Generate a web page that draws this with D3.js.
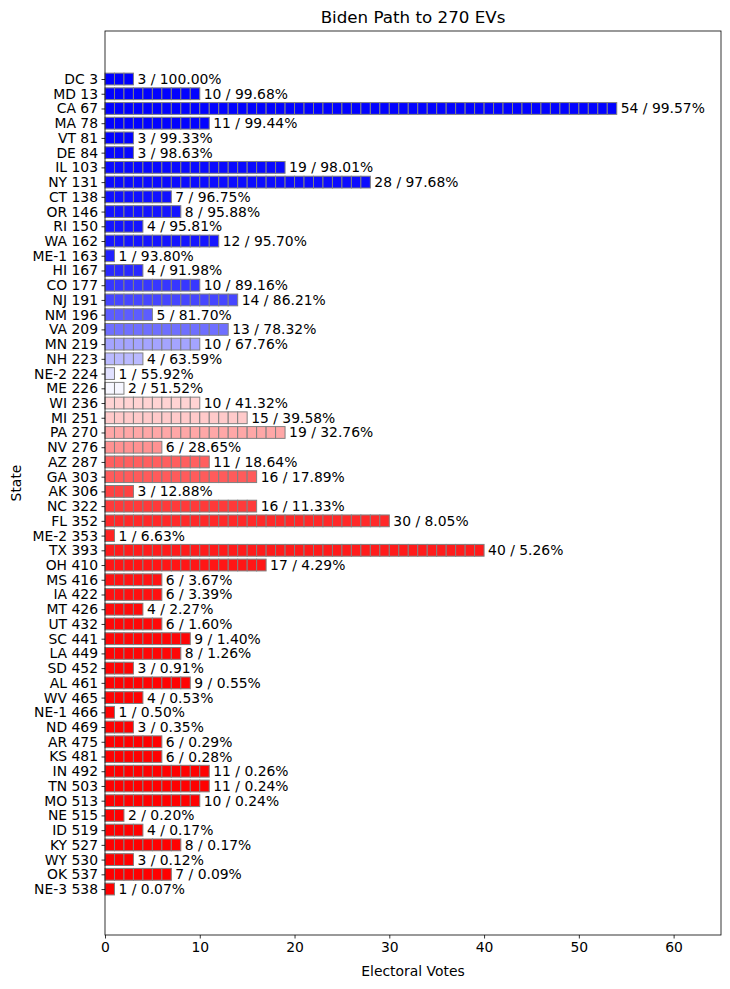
<!DOCTYPE html>
<html>
<head>
<meta charset="utf-8">
<script src="https://cdn.jsdelivr.net/npm/d3@7"></script>
<style>
  body { margin: 0; background: #fff; }
  text { font-family: "DejaVu Sans", sans-serif; }
</style>
</head>
<body>
<svg id="chart" width="730" height="989"></svg>
<script>
// states in path order, their electoral votes, and Biden win probability (%)
const states = ["DC", "MD", "CA", "MA", "VT", "DE", "IL", "NY", "CT", "OR", "RI", "WA", "ME-1", "HI",
  "CO", "NJ", "NM", "VA", "MN", "NH", "NE-2", "ME", "WI", "MI", "PA", "NV", "AZ", "GA", "AK", "NC",
  "FL", "ME-2", "TX", "OH", "MS", "IA", "MT", "UT", "SC", "LA", "SD", "AL", "WV", "NE-1", "ND", "AR",
  "KS", "IN", "TN", "MO", "NE", "ID", "KY", "WY", "OK", "NE-3"];
const votes = [3, 10, 54, 11, 3, 3, 19, 28, 7, 8, 4, 12, 1, 4,
  10, 14, 5, 13, 10, 4, 1, 2, 10, 15, 19, 6, 11, 16, 3, 16,
  30, 1, 40, 17, 6, 6, 4, 6, 9, 8, 3, 9, 4, 1, 3, 6,
  6, 11, 11, 10, 2, 4, 8, 3, 7, 1];
const probs = [100.00, 99.68, 99.57, 99.44, 99.33, 98.63, 98.01, 97.68, 96.75, 95.88, 95.81, 95.70, 93.80, 91.98,
  89.16, 86.21, 81.70, 78.32, 67.76, 63.59, 55.92, 51.52, 41.32, 39.58, 32.76, 28.65, 18.64, 17.89, 12.88, 11.33,
  8.05, 6.63, 5.26, 4.29, 3.67, 3.39, 2.27, 1.60, 1.40, 1.26, 0.91, 0.55, 0.53, 0.50, 0.35, 0.29,
  0.28, 0.26, 0.24, 0.24, 0.20, 0.17, 0.17, 0.12, 0.09, 0.07];
const xTicks = [0, 10, 20, 30, 40, 50, 60];

const cumulative = Array.from(d3.cumsum(votes));
const rows = states.map((s, i) => ({
  state: s, ev: votes[i], p: probs[i], label: s + " " + cumulative[i]
}));

const svg = d3.select("#chart");
const m = { left: 105, right: 721, top: 31, bottom: 935 };

const x = d3.scaleLinear().domain([0, 65]).range([m.left, m.right]);
const y = d3.scaleLinear().domain([-3.26, 58.12]).range([m.top, m.bottom]);
const barH = 0.8;

// blue above 50%, red below, fading to white near 50%
function colour(p) {
  const f = p / 100;
  if (f >= 0.5) {
    const w = Math.round(Math.min(1, (1 - f) * 2) * 255);
    return d3.rgb(w, w, 255).toString();
  }
  const w = Math.round(Math.min(1, f * 2) * 255);
  return d3.rgb(255, w, w).toString();
}

const plot = svg.append("g");

rows.forEach((r, i) => {
  const g = plot.append("g").attr("class", "bar");
  const cells = d3.range(r.ev);
  g.selectAll("rect")
    .data(cells)
    .join("rect")
    .attr("x", j => x(j))
    .attr("y", y(i - barH / 2))
    .attr("width", x(1) - x(0))
    .attr("height", y(barH) - y(0))
    .attr("fill", colour(r.p))
    .attr("stroke", "#808080")
    .attr("stroke-width", 1);

  g.append("text")
    .attr("x", x(r.ev) + 4)
    .attr("y", y(i))
    .attr("dy", "0.36em")
    .style("font-size", "13.9px")
    .text(r.ev + " / " + r.p.toFixed(2) + "%");
});

// axes
const xAxis = d3.axisBottom(x).tickValues(xTicks).tickSize(3.5).tickPadding(3.5);
svg.append("g")
  .attr("transform", `translate(0,${m.bottom})`)
  .call(xAxis)
  .call(g => g.select(".domain").remove())
  .call(g => g.selectAll("text").style("font-size", "13.9px").attr("fill", "#000").style("font-family", "DejaVu Sans"))
  .call(g => g.selectAll("line").attr("stroke", "#000").attr("stroke-width", 0.8));

const yAxis = d3.axisLeft(y)
  .tickValues(d3.range(rows.length))
  .tickFormat(i => rows[i].label)
  .tickSize(3.5).tickPadding(3.5);
svg.append("g")
  .attr("transform", `translate(${m.left},0)`)
  .call(yAxis)
  .call(g => g.select(".domain").remove())
  .call(g => g.selectAll("text").style("font-size", "13.9px").attr("fill", "#000").style("font-family", "DejaVu Sans"))
  .call(g => g.selectAll("line").attr("stroke", "#000").attr("stroke-width", 0.8));

svg.append("rect")
  .attr("x", m.left).attr("y", m.top)
  .attr("width", m.right - m.left).attr("height", m.bottom - m.top)
  .attr("fill", "none").attr("stroke", "#000").attr("stroke-width", 0.8);

svg.append("text")
  .attr("x", (m.left + m.right) / 2).attr("y", 23)
  .attr("text-anchor", "middle")
  .style("font-size", "16.7px")
  .text("Biden Path to 270 EVs");

svg.append("text")
  .attr("x", (m.left + m.right) / 2).attr("y", 976)
  .attr("text-anchor", "middle")
  .style("font-size", "13.9px")
  .text("Electoral Votes");

svg.append("text")
  .attr("transform", `translate(21,${(m.top + m.bottom) / 2}) rotate(-90)`)
  .attr("text-anchor", "middle")
  .style("font-size", "13.9px")
  .text("State");
</script>
</body>
</html>
